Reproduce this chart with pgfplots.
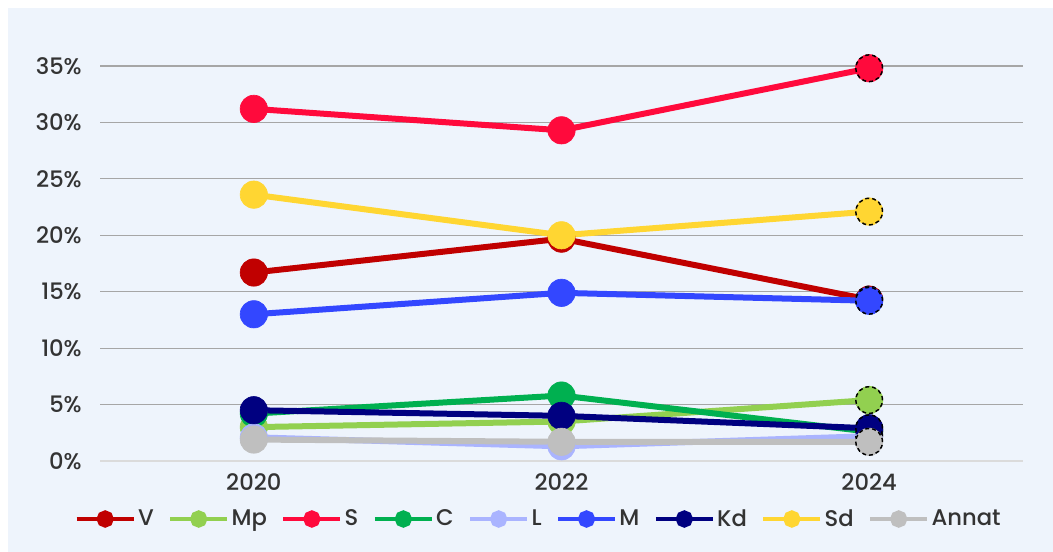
\documentclass[border=0pt]{standalone}
\usepackage{pgfplots}
\pgfplotsset{compat=1.18}
\usepackage{fontspec}
\setmainfont{Poppins}[UprightFont=* Medium]
\definecolor{bgc}{HTML}{EEF4FC}
\definecolor{txt}{HTML}{333333}
\definecolor{gridc}{HTML}{A6A6A6}
\definecolor{cV}{HTML}{C00000}
\definecolor{cMp}{HTML}{92D050}
\definecolor{cS}{HTML}{FF0A3C}
\definecolor{cC}{HTML}{00B050}
\definecolor{cL}{HTML}{AAB4FF}
\definecolor{cM}{HTML}{3347FF}
\definecolor{cKd}{HTML}{000080}
\definecolor{cSd}{HTML}{FFD632}
\definecolor{cAn}{HTML}{BFBFBF}
\pgfplotsset{
  ser/.style={color=#1, line width=4.5pt, mark=*, mark size=10.25pt, mark options={solid, line width=0.5pt}},
  last/.style={forget plot, mark=*, mark size=10pt, mark options={fill=#1, draw=black, dashed, line width=1.1pt, dash pattern=on 3pt off 2.2pt}},
}
\begin{document}
\begin{tikzpicture}
\fill[white] (0,0) rectangle (789.75pt,414pt);
\fill[bgc] (6pt,0) rectangle (789.75pt,408pt);
\begin{axis}[
  at={(75pt,68.25pt)}, anchor=south west, scale only axis,
  width=692.25pt, height=296.25pt,
  xmin=2019, xmax=2025, ymin=0, ymax=35,
  clip=false,
  axis line style={draw=none},
  tick style={draw=none},
  xtick={2020,2022,2024},
  ytick={5,10,...,35},
  extra y ticks={0},
  extra y tick style={grid style={color=gridc!40, line width=1.1pt}},
  ymajorgrids,
  grid style={color=gridc, line width=0.9pt},
  /pgf/number format/assume math mode=true,
  xticklabel={\pgfmathprintnumber[1000 sep={}]{\tick}},
  yticklabel={\pgfmathprintnumber{\tick}\%},
  tick label style={font=\fontsize{17}{20}\selectfont, text=txt, inner sep=0pt},
  yticklabel style={xshift=-13.5pt},
  xticklabel style={yshift=-9.5pt},
  legend style={at={(axis cs:2021.85,-5.14)}, anchor=center, draw=none, fill=none,
    font=\fontsize{17}{20}\selectfont, text=txt, legend columns=-1,
    nodes={inner xsep=1.5pt},
    /tikz/every even column/.append style={column sep=9pt}},
  legend image code/.code={\draw[#1,mark=none,line width=3.6pt] (0pt,0pt) -- (42.75pt,0pt); \fill[#1] (21.4pt,0pt) circle (4.2pt);},
]
\addplot[ser=cV] coordinates {(2020,16.7) (2022,19.7) (2024,14.3)};
\addlegendentry{V}
\addplot[last=cV] coordinates {(2024,14.3)};
\addplot[ser=cMp] coordinates {(2020,3.0) (2022,3.5) (2024,5.4)};
\addlegendentry{Mp}
\addplot[last=cMp] coordinates {(2024,5.4)};
\addplot[ser=cS] coordinates {(2020,31.2) (2022,29.3) (2024,34.8)};
\addlegendentry{S}
\addplot[last=cS] coordinates {(2024,34.8)};
\addplot[ser=cC] coordinates {(2020,4.2) (2022,5.8) (2024,2.6)};
\addlegendentry{C}
\addplot[last=cC] coordinates {(2024,2.6)};
\addplot[ser=cL] coordinates {(2020,2.1) (2022,1.3) (2024,2.2)};
\addlegendentry{L}
\addplot[last=cL] coordinates {(2024,2.2)};
\addplot[ser=cM] coordinates {(2020,13.0) (2022,14.9) (2024,14.2)};
\addlegendentry{M}
\addplot[last=cM] coordinates {(2024,14.2)};
\addplot[ser=cKd] coordinates {(2020,4.5) (2022,4.0) (2024,2.9)};
\addlegendentry{Kd}
\addplot[last=cKd] coordinates {(2024,2.9)};
\addplot[ser=cSd] coordinates {(2020,23.6) (2022,20.0) (2024,22.1)};
\addlegendentry{Sd}
\addplot[last=cSd] coordinates {(2024,22.1)};
\addplot[ser=cAn] coordinates {(2020,1.9) (2022,1.7) (2024,1.7)};
\addlegendentry{Annat}
\addplot[last=cAn] coordinates {(2024,1.7)};
\end{axis}
\pgfresetboundingbox
\path (0,0) rectangle (789.75pt,414pt);
\end{tikzpicture}
\end{document}
